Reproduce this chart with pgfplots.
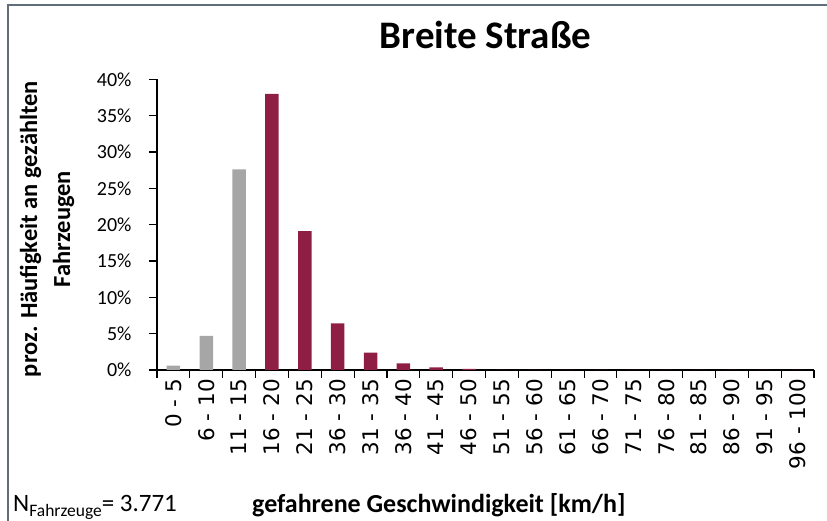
\documentclass[border=0pt]{standalone}
\usepackage{pgfplots}
\pgfplotsset{compat=1.18}
\usepackage{fontspec}
\setmainfont{Carlito}
\newfontfamily\dejavu{DejaVu Sans}
\definecolor{maroon}{HTML}{8F1E44}
\definecolor{gbar}{HTML}{A6A6A6}
\definecolor{framec}{HTML}{5F6E7A}

\begin{document}
\begin{tikzpicture}
\useasboundingbox (0pt,0pt) rectangle (827pt,521pt);
\draw[framec, line width=2pt] (8pt,0pt) -- (8pt,516pt) -- (827pt,516pt);
\begin{axis}[
  at={(157pt,151pt)}, anchor=south west,
  scale only axis, width=657pt, height=290.7pt,
  xmin=-0.5, xmax=19.5, ymin=0, ymax=40,
  axis lines*=left,
  axis line style={line width=1.1pt, black},
  ybar, bar width=13.5pt,
  xtick={-0.5,0.5,...,19.5},
  x tick label as interval,
  xticklabels={0 - 5,6 - 10,11 - 15,16 - 20,21 - 25,36 - 30,31 - 35,36 - 40,41 - 45,46 - 50,51 - 55,56 - 60,61 - 65,66 - 70,71 - 75,76 - 80,81 - 85,86 - 90,91 - 95,96 - 100},
  xticklabel style={rotate=90, anchor=east, font=\dejavu\fontsize{21.5}{21.5}\selectfont, inner sep=1pt},
  ytick={0,5,...,40},
  /pgf/number format/assume math mode=true,
  yticklabel={\pgfmathprintnumber{\tick}\%},
  yticklabel style={font=\fontsize{20}{20}\selectfont, xshift=-14pt},
  tick align=outside,
  major tick length=8pt,
  tick style={line width=1.1pt, black},
]
\addplot[fill=gbar, draw=none, bar shift=0pt] coordinates {(0,0.6) (1,4.7) (2,27.6)};
\addplot[fill=maroon, draw=none, bar shift=0pt] coordinates {(3,38.0) (4,19.1) (5,6.4) (6,2.4) (7,0.9) (8,0.35) (9,0.15) (10,0) (11,0) (12,0) (13,0) (14,0) (15,0) (16,0) (17,0) (18,0) (19,0)};
\end{axis}
\node[anchor=base, font=\bfseries\fontsize{39}{39}\selectfont] at (485.5pt,472.7pt) {Breite Straße};
\node[rotate=90, align=center, font=\bfseries\fontsize{24.5}{33}\selectfont] at (47pt,292pt) {proz. Häufigkeit an gezählten\\Fahrzeugen};
\node[anchor=base west, inner sep=0pt, font=\bfseries\fontsize{26}{26}\selectfont] at (252pt,8.3pt) {gefahrene Geschwindigkeit [km/h]};
\node[anchor=base west, inner sep=0pt, font=\fontsize{25}{25}\selectfont] at (13pt,9.3pt) {N\raisebox{-5pt}{\fontsize{17.5}{17.5}\selectfont Fahrzeuge}= 3.771};
\end{tikzpicture}
\end{document}
